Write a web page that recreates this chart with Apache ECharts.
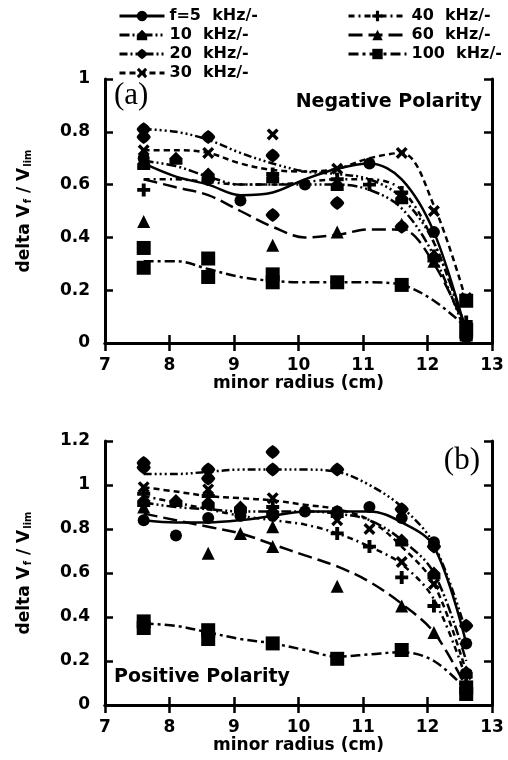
<!DOCTYPE html>
<html>
<head>
<meta charset="utf-8">
<script src="https://cdn.jsdelivr.net/npm/echarts@6/dist/echarts.min.js"></script>
<style>
  html, body { margin: 0; padding: 0; background: #fff; }
  #main { width: 508px; height: 760px; }
</style>
</head>
<body>
<div id="main"></div>
<script>
var radius = [7.6, 8.1, 8.6, 9.1, 9.6, 10.1, 10.6, 11.1, 11.6, 12.1, 12.6];
var freqNames = ['f=5  kHz/-', '10  kHz/-', '20  kHz/-', '30  kHz/-', '40  kHz/-', '60  kHz/-', '100  kHz/-'];
var xTicks = [7, 8, 9, 10, 11, 12, 13];

// (a) negative polarity - fit curves
var negFit5   = [0.68, 0.63, 0.60, 0.56, 0.57, 0.62, 0.66, 0.68, 0.62, 0.42, 0.04];
var negFit10  = [0.69, 0.67, 0.63, 0.60, 0.60, 0.60, 0.60, 0.58, 0.51, 0.33, 0.03];
var negFit20  = [0.81, 0.80, 0.77, 0.72, 0.68, 0.65, 0.64, 0.62, 0.55, 0.38, 0.04];
var negFit30  = [0.73, 0.73, 0.72, 0.68, 0.655, 0.65, 0.66, 0.70, 0.72, 0.52, 0.16];
var negFit40  = [0.62, 0.62, 0.61, 0.60, 0.60, 0.61, 0.62, 0.62, 0.58, 0.38, 0.05];
var negFit60  = [0.62, 0.59, 0.56, 0.50, 0.44, 0.40, 0.41, 0.43, 0.43, 0.30, 0.05];
var negFit100 = [0.31, 0.31, 0.28, 0.25, 0.235, 0.23, 0.23, 0.23, 0.22, 0.16, 0.06];

// (a) negative polarity - measured points [radius, value]
var negPts5   = [[7.6, 0.70], [8.6, 0.62], [9.1, 0.54], [10.1, 0.60], [11.1, 0.68], [12.1, 0.42], [12.6, 0.04]];
var negPts10  = [[7.6, 0.68], [8.1, 0.70], [8.6, 0.64], [9.6, 0.63], [10.6, 0.60], [11.6, 0.55], [12.1, 0.33], [12.6, 0.03]];
var negPts20  = [[7.6, 0.81], [7.6, 0.78], [8.6, 0.78], [9.6, 0.71], [9.6, 0.485], [10.6, 0.53], [11.6, 0.44], [12.6, 0.02]];
var negPts30  = [[7.6, 0.73], [8.6, 0.72], [9.6, 0.79], [10.6, 0.66], [11.6, 0.72], [12.1, 0.50], [12.6, 0.17]];
var negPts40  = [[7.6, 0.58], [8.6, 0.62], [9.6, 0.64], [10.6, 0.62], [11.1, 0.60], [11.6, 0.57], [12.1, 0.33], [12.6, 0.08]];
var negPts60  = [[7.6, 0.46], [9.6, 0.37], [10.6, 0.42], [11.6, 0.45], [12.1, 0.31], [12.6, 0.06]];
var negPts100 = [[7.6, 0.36], [7.6, 0.285], [8.6, 0.32], [8.6, 0.25], [9.6, 0.26], [9.6, 0.23], [10.6, 0.23], [11.6, 0.22], [12.6, 0.16], [12.6, 0.05]];

// (b) positive polarity - fit curves
var posFit5   = [0.84, 0.83, 0.83, 0.84, 0.86, 0.88, 0.88, 0.88, 0.83, 0.72, 0.28];
var posFit10  = [0.92, 0.90, 0.89, 0.88, 0.88, 0.88, 0.87, 0.84, 0.75, 0.60, 0.20];
var posFit20  = [1.05, 1.05, 1.06, 1.07, 1.07, 1.07, 1.06, 1.00, 0.90, 0.73, 0.33];
var posFit30  = [0.99, 0.97, 0.95, 0.94, 0.93, 0.91, 0.89, 0.84, 0.72, 0.55, 0.15];
var posFit40  = [0.95, 0.92, 0.89, 0.86, 0.84, 0.82, 0.78, 0.72, 0.64, 0.48, 0.12];
var posFit60  = [0.87, 0.84, 0.81, 0.78, 0.73, 0.68, 0.63, 0.56, 0.46, 0.33, 0.08];
var posFit100 = [0.37, 0.36, 0.33, 0.30, 0.28, 0.25, 0.22, 0.23, 0.24, 0.20, 0.07];

// (b) positive polarity - measured points [radius, value]
var posPts5   = [[7.6, 0.84], [8.1, 0.77], [8.6, 0.85], [9.1, 0.86], [9.6, 0.86], [10.1, 0.88], [10.6, 0.88], [11.1, 0.90], [11.6, 0.85], [12.1, 0.74], [12.6, 0.28]];
var posPts10  = [[7.6, 0.93], [8.1, 0.93], [8.6, 0.92], [9.1, 0.90], [9.6, 0.88], [10.6, 0.88], [11.6, 0.75], [12.1, 0.60], [12.6, 0.15]];
var posPts20  = [[7.6, 1.10], [7.6, 1.08], [8.6, 1.07], [8.6, 1.03], [9.6, 1.15], [9.6, 1.07], [10.6, 1.07], [11.6, 0.89], [12.1, 0.72], [12.6, 0.36]];
var posPts30  = [[7.6, 0.99], [8.6, 0.98], [9.6, 0.94], [10.6, 0.84], [11.1, 0.80], [11.6, 0.65], [12.1, 0.55], [12.6, 0.14]];
var posPts40  = [[7.6, 0.96], [8.6, 0.95], [9.6, 0.90], [10.6, 0.78], [11.1, 0.72], [11.6, 0.58], [12.1, 0.45], [12.6, 0.10]];
var posPts60  = [[7.6, 0.90], [8.6, 0.69], [9.1, 0.78], [9.6, 0.72], [9.6, 0.81], [10.6, 0.54], [11.6, 0.45], [12.1, 0.33], [12.6, 0.06]];
var posPts100 = [[7.6, 0.38], [7.6, 0.35], [8.6, 0.34], [8.6, 0.30], [9.6, 0.28], [10.6, 0.21], [11.6, 0.25], [12.6, 0.08], [12.6, 0.05]];

(function (window) {
    'use strict';
    var black = '#000';
    var font = 'DejaVu Sans';

    //marker shapes and dash patterns per frequency
    var marks = [
        'circle',
        'path://M5,0 L10,5 L10,10 L0,10 L0,5 Z',
        'path://M5,0 C8,2 10,4 10,5 C10,6 8,8 5,10 C2,8 0,6 0,5 C0,4 2,2 5,0 Z',
        'path://M0,2 L2,0 L5,3 L8,0 L10,2 L7,5 L10,8 L8,10 L5,7 L2,10 L0,8 L3,5 Z',
        'path://M3.5,0 L6.5,0 L6.5,3.5 L10,3.5 L10,6.5 L6.5,6.5 L6.5,10 L3.5,10 L3.5,6.5 L0,6.5 L0,3.5 L3.5,3.5 Z',
        'triangle',
        'rect'
    ];
    var sizes = [12, 13, 14, 12, 13, 13, 14];
    var dashes = [
        'solid',
        [10, 3, 2, 3, 2, 3],
        [8, 3, 2, 3, 2, 3, 2, 3],
        [6, 4],
        [6, 4, 2, 4],
        [14, 6],
        [10, 4, 3, 4]
    ];

    var negFits = [negFit5, negFit10, negFit20, negFit30, negFit40, negFit60, negFit100];
    var negPts = [negPts5, negPts10, negPts20, negPts30, negPts40, negPts60, negPts100];
    var posFits = [posFit5, posFit10, posFit20, posFit30, posFit40, posFit60, posFit100];
    var posPts = [posPts5, posPts10, posPts20, posPts30, posPts40, posPts60, posPts100];

    function fitSeries(i, axis, values) {
        return {
            type: 'line',
            name: freqNames[i],
            xAxisIndex: axis,
            yAxisIndex: axis,
            data: radius.map(function (r, k) { return [r, values[k]]; }),
            smooth: 0.35,
            showSymbol: false,
            symbol: marks[i],
            itemStyle: {color: black},
            lineStyle: {color: black, width: 2.5, type: dashes[i]},
            z: 2
        };
    }

    function pointSeries(i, axis, pts) {
        return {
            type: 'scatter',
            name: freqNames[i],
            xAxisIndex: axis,
            yAxisIndex: axis,
            data: pts,
            symbol: marks[i],
            symbolSize: sizes[i],
            itemStyle: {color: black, opacity: 1},
            z: 3
        };
    }

    var series = [];
    // lines first so legend icons come from them
    for (var i = 0; i < 7; i++) {
        series.push(fitSeries(i, 0, negFits[i]));
        series.push(fitSeries(i, 2, posFits[i]));
    }
    for (var j = 0; j < 7; j++) {
        series.push(pointSeries(j, 0, negPts[j]));
        series.push(pointSeries(j, 2, posPts[j]));
    }

    var yName = '{n|delta V}{s|f}{n| / V}{s|lim}';
    var nameRich = {
        n: {fontFamily: font, fontWeight: 'bold', fontSize: 17, color: black},
        s: {fontFamily: font, fontWeight: 'bold', fontSize: 10, color: black, verticalAlign: 'bottom', padding: [6, 0, 0, 1]}
    };

    function xAxisOf(grid, top) {
        return {
            type: 'value', gridIndex: grid, position: top ? 'top' : 'bottom',
            min: xTicks[0], max: xTicks[xTicks.length - 1], interval: 1,
            name: top ? '' : 'minor radius (cm)',
            nameLocation: 'middle', nameGap: 32,
            nameTextStyle: {fontFamily: font, fontWeight: 'bold', fontSize: 17, color: black},
            axisLine: {show: true, lineStyle: {color: black, width: 3}},
            axisTick: {show: true, inside: true, length: 8, lineStyle: {color: black, width: 2.5}},
            axisLabel: {show: !top, margin: 14, fontFamily: font, fontWeight: 'bold', fontSize: 17, color: black},
            splitLine: {show: false}
        };
    }

    function yAxisOf(grid, max, right) {
        return {
            type: 'value', gridIndex: grid, position: right ? 'right' : 'left',
            min: 0, max: max, interval: 0.2,
            name: right ? '' : yName,
            nameLocation: 'middle', nameGap: 72, nameRotate: 90,
            nameTextStyle: {rich: nameRich},
            axisLine: {show: true, lineStyle: {color: black, width: 3}},
            axisTick: {show: true, inside: true, length: 8, lineStyle: {color: black, width: 2.5}},
            axisLabel: {show: !right, margin: 15, fontFamily: font, fontWeight: 'bold', fontSize: 17, color: black},
            splitLine: {show: false}
        };
    }

    var legendBase = {
        orient: 'vertical',
        itemWidth: 45,
        itemHeight: 13,
        itemGap: 3,
        selectedMode: false,
        lineStyle: {width: 3},
        textStyle: {fontFamily: font, fontWeight: 'bold', fontSize: 16, color: black}
    };

    var option = {
        animation: false,
        backgroundColor: '#fff',
        textStyle: {fontFamily: font},
        legend: [
            Object.assign({}, legendBase, {left: 113, top: 3, data: freqNames.slice(0, 4)}),
            Object.assign({}, legendBase, {left: 342, top: 3, itemWidth: 58, data: freqNames.slice(4)})
        ],
        grid: [
            {left: 105, top: 79, width: 387, height: 264},
            {left: 105, top: 441, width: 387, height: 264}
        ],
        xAxis: [xAxisOf(0, false), xAxisOf(0, true), xAxisOf(1, false), xAxisOf(1, true)],
        yAxis: [yAxisOf(0, 1, false), yAxisOf(0, 1, true), yAxisOf(1, 1.2, false), yAxisOf(1, 1.2, true)],
        graphic: [
            {type: 'text', left: 114, top: 80, style: {text: '(a)', font: '31px "Liberation Serif"', fill: black}},
            {type: 'text', right: 26, top: 93, style: {text: 'Negative Polarity', font: 'bold 19px "DejaVu Sans"', fill: black}},
            {type: 'text', right: 28, top: 445, style: {text: '(b)', font: '31px "Liberation Serif"', fill: black}},
            {type: 'text', left: 114, top: 668, style: {text: 'Positive Polarity', font: 'bold 19px "DejaVu Sans"', fill: black}}
        ],
        series: series
    };

    var et = echarts.init(document.getElementById('main'));
    et.setOption(option);
})(window);
</script>
</body>
</html>
